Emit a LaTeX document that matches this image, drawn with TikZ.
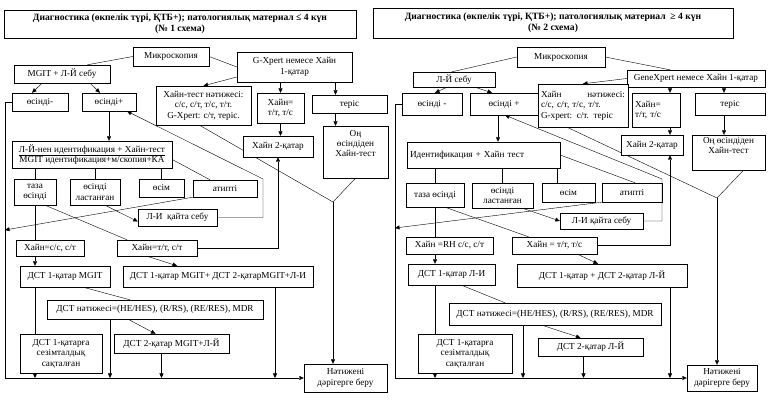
\documentclass[tikz,border=0pt]{standalone}
\usepackage{fontspec}
\setmainfont{Liberation Serif}
\usetikzlibrary{arrows.meta}
\pgfdeclarelayer{paper}
\pgfdeclarelayer{under}
\pgfsetlayers{paper,under,main}

\begin{document}
\begin{tikzpicture}[x=1pt, y=-1pt, line width=0.7pt,
    box/.style={draw, fill=white, align=center, inner sep=1pt,
      font=\fontsize{9.2}{10.4}\selectfont},
    lbox/.style={box, align=left, inner xsep=3pt},
    head/.style={box, font=\fontsize{9.6}{11}\selectfont\bfseries},
    arr/.style={-{Triangle[length=4.5pt, width=4pt]}}
  ]
  \begin{pgfonlayer}{paper}
    \fill[white] (0,0) rectangle (769,403);
  \end{pgfonlayer}
  \useasboundingbox (0,0) rectangle (769,403);

  % scheme 1
  \node[head, minimum width=352, minimum height=28] (title1) at (180,24)
    {Диагностика (өкпелік түрі, ҚТБ+); патологиялық материал ≤ 4 күн\\(№ 1 схема)};
  \node[box, minimum width=76, minimum height=19] (micro1) at (171,56.5) {Микроскопия};
  \node[box, minimum width=115, minimum height=30] (xpert1) at (294.5,67) {G-Xpert немесе Хайн\\1-қатар};
  \node[box, minimum width=96, minimum height=18] (mgit1) at (62,74) {MGIT + Л-Й себу};
  \node[box, minimum width=56, minimum height=18] (neg1) at (40,102) {өсінді-};
  \node[box, minimum width=54, minimum height=18] (pos1) at (109,102) {өсінді+};
  \node[box, minimum width=95, minimum height=39] (hres1) at (203.5,105.5)
    {Хайн-тест нәтижесі:\\с/с, с/т, т/с, т/т.\\G-Xpert: с/т, теріс.};
  \node[box, minimum width=47, minimum height=30] (heq1) at (280.5,108) {Хайн=\\т/т, т/с};
  \node[box, minimum width=75, minimum height=18] (ter1) at (349.5,104) {теріс};
  \node[box, minimum width=65, minimum height=52] (on1) at (355.5,152)
    {\parbox[t][44pt][t]{60pt}{\centering Оң\\өсіндіден\\Хайн-тест}};
  \node[box, minimum width=70, minimum height=21] (h2q1) at (278,146.5) {Хайн 2-қатар};
  \node[box, minimum width=160, minimum height=27] (id1) at (92,154.5)
    {\underline{Л-Й-нен идентификация + Хайн-тест}\\MGIT идентификация+м/скопия+КА};
  \node[box, minimum width=42, minimum height=26] (clean1) at (35,192) {таза\\өсінді};
  \node[box, minimum width=50, minimum height=26] (cont1) at (95,192) {өсінді\\ластанған};
  \node[box, minimum width=45, minimum height=18] (grow1) at (161.5,188) {өсім};
  \node[box, minimum width=64, minimum height=17] (atyp1) at (225,188.5) {атипті};
  \node[box, minimum width=79, minimum height=17] (rese1) at (177.5,217.5) {Л-И\ \ қайта себу};
  \node[box, minimum width=68, minimum height=16] (hss1) at (50,248) {Хайн=с/с, с/т};
  \node[box, minimum width=80, minimum height=16] (htt1) at (157,248) {Хайн=т/т, с/т};
  \node[box, minimum width=90, minimum height=21] (dsta1) at (65,276.5) {ДСТ 1-қатар MGIT};
  \node[box, minimum width=190, minimum height=21] (dstb1) at (218,276.5) {ДСТ 1-қатар MGIT+ ДСТ 2-қатарMGIT+Л-И};
  \node[box, minimum width=216, minimum height=19] (dstr1) at (155,309.5) {ДСТ нәтижесі=(HE/HES), (R/RS), (RE/RES), MDR};
  \node[box, minimum width=82, minimum height=39] (sens1) at (61,353.5) {ДСТ 1-қатарға\\сезімталдық\\сақталған};
  \node[box, minimum width=115, minimum height=19] (dstc1) at (171.5,343.5) {ДСТ 2-қатар MGIT+Л-Й};
  \node[box, minimum width=83, minimum height=28] (res1) at (345.5,378) {Нәтижені\\дәрігерге беру};

  \draw (micro1.west) -- (mgit1.20);
  \draw (micro1.east) -- (xpert1.west);
  \draw[arr] ([xshift=-20]mgit1.south) -- ([xshift=-8]neg1.north);
  \draw[arr] ([xshift=28]mgit1.south) -- ([xshift=-9]pos1.north);
  \draw[arr] ([yshift=-10]xpert1.west) -- (hres1.north);
  \draw[arr] (heq1.north |- xpert1.south) -- (heq1.north);
  \coordinate (t1) at ([xshift=-14]ter1.north);
  \draw[arr] (t1 |- xpert1.south) -- (t1);
  \draw[arr] (heq1.south) -- (heq1.south |- h2q1.north);
  \draw[arr] (t1 |- ter1.south) -- (t1 |- on1.north);
  \draw[arr] (pos1.south) -- (pos1.south |- id1.north);
  \foreach \n in {clean1, cont1, grow1}
    \draw (\n.north |- id1.south) -- (\n.north);
  \draw ([yshift=-5]id1.east) -- ([xshift=-15]atyp1.north);
  \coordinate (j1) at (5,230);
  \draw[arr] (atyp1.south west) -- (j1);
  \draw (clean1.south) -- (clean1.south |- hss1.north);
  \draw ([xshift=10]clean1.south) -- ([xshift=-30]htt1.north);
  \draw[arr] ([xshift=10]cont1.south) -- ([yshift=-4]rese1.west);
  \coordinate (k1) at (263,179);
  \draw[arr] (rese1.east) -| (k1) -- ([xshift=18]pos1.south);
  \coordinate (v1) at (333,202);
  \begin{pgfonlayer}{under}
    \draw ([xshift=-4]hres1.south) -- (v1) -- (on1.south);
  \end{pgfonlayer}
  \draw[arr] (v1) -- (v1 |- res1.north);
  \draw[arr] (htt1.east) -| (h2q1.south);
  \draw[arr] (clean1.south |- hss1.south) -- (clean1.south |- dsta1.north);
  \draw[arr] ([xshift=-10]htt1.south) -- ([xshift=-41]dstb1.north);
  \draw ([xshift=18]dsta1.south) -- ([xshift=-25]dstr1.north);
  \draw[arr] ([xshift=-27]dstr1.south) -- ([xshift=-16]dstc1.north);
  \draw (clean1.south |- dsta1.south) -- (clean1.south |- sens1.north);
  \coordinate (e1) at ([xshift=-45]dstr1.south);
  \coordinate (e2) at ([xshift=-10]dstc1.south);
  \coordinate (e3) at ([xshift=57]dstb1.south);
  \foreach \c in {e1, e2, e3}
    \draw[arr] (\c) -- (\c |- res1.west);
  \draw[arr] (clean1.south |- sens1.south) -- (clean1.south |- res1.west);
  \draw[arr] (neg1.west) -- ++(-7,0) |- (res1.west);

  % scheme 2
  \node[head, minimum width=360, minimum height=30] (title2) at (553,23)
    {Диагностика (өкпелік түрі, ҚТБ+); патологиялық материал\ \ ≥ 4 күн\\(№ 2 схема)};
  \node[box, minimum width=88, minimum height=20] (micro2) at (561,57) {Микроскопия};
  \node[box, minimum width=82, minimum height=15] (lj2) at (454,79.5) {Л-Й себу};
  \node[box, minimum width=138, minimum height=17] (gx2) at (696,78.5) {GeneXpert немесе Хайн 1-қатар};
  \node[box, minimum width=60, minimum height=22] (neg2) at (432,104) {өсінді -};
  \node[box, minimum width=68, minimum height=22] (pos2) at (504,104) {өсінді +};
  \node[lbox, text width=84, minimum height=43] (hres2) at (583,105.5)
    {Хайн \hfill нәтижесі:\\с/с, с/т, т/с, т/т.\\G-xpert: с/т. теріс};
  \node[lbox, text width=42, minimum height=34] (heq2) at (656,110) {Хайн=\\т/т, т/с};
  \node[box, minimum width=70, minimum height=22] (ter2) at (730,104) {теріс};
  \node[box, minimum width=62, minimum height=20] (h2q2) at (652,145) {Хайн 2-қатар};
  \node[box, minimum width=73, minimum height=35] (on2) at (728.5,152.5)
    {\parbox[t][31pt][t]{68pt}{\centering Оң өсіндіден\\Хайн-тест}};
  \node[lbox, text width=147, minimum height=26] (id2) at (483.5,155) {Идентификация + Хайн тест};
  \node[box, minimum width=58, minimum height=24] (clean2) at (435,195) {таза өсінді};
  \node[box, minimum width=61, minimum height=25] (cont2) at (502.5,195.5) {өсінді\\ластанған};
  \node[box, minimum width=53, minimum height=19] (grow2) at (568.5,192.5) {өсім};
  \node[box, minimum width=60, minimum height=19] (atyp2) at (632,192.5) {атипті};
  \node[box, minimum width=83, minimum height=16] (rese2) at (601.5,221) {Л-И қайта себу};
  \node[box, minimum width=87, minimum height=17] (hss2) at (449.5,245.5) {Хайн =RH с/с, с/т};
  \node[box, minimum width=85, minimum height=17] (htt2) at (554.5,245.5) {Хайн = т/т, т/с};
  \node[box, minimum width=87, minimum height=21] (dsta2) at (451.5,274.5) {ДСТ 1-қатар Л-И};
  \node[box, minimum width=170, minimum height=23] (dstb2) at (602,275.5) {ДСТ 1-қатар + ДСТ 2-қатар Л-Й};
  \node[box, minimum width=212, minimum height=22] (dstr2) at (555,314) {ДСТ нәтижесі=(HE/HES), (R/RS), (RE/RES), MDR};
  \node[box, minimum width=94, minimum height=39] (sens2) at (465,353.5) {ДСТ 1-қатарға\\сезімталдық\\сақталған};
  \node[box, minimum width=105, minimum height=18] (dstc2) at (590.5,347) {ДСТ 2-қатар Л-Й};
  \node[box, minimum width=70, minimum height=26] (res2) at (722,378) {Нәтижені\\дәрігерге беру};

  \draw (micro2.west) -- ([xshift=-2]lj2.north);
  \draw (micro2.east) -- ([xshift=-26]gx2.north);
  \draw[arr] ([xshift=-7]lj2.south) -- ([xshift=3]neg2.north);
  \draw[arr] ([xshift=21]lj2.south) -- ([xshift=-12]pos2.north);
  \draw[arr] (gx2.west) -- (hres2.north);
  \coordinate (g2) at ([xshift=-26]gx2.south);
  \draw[arr] (g2) -- (g2 |- heq2.north);
  \draw[arr] (g2 |- heq2.south) -- (g2 |- h2q2.north);
  \coordinate (t2) at ([xshift=-6]ter2.north);
  \draw[arr] (t2 |- gx2.south) -- (t2);
  \draw[arr] (t2 |- ter2.south) -- (t2 |- on2.north);
  \coordinate (p2) at ([xshift=-6]pos2.south);
  \draw[arr] (p2) -- (p2 |- id2.north);
  \coordinate (w2) at ([xshift=-11]grow2.north);
  \foreach \n in {clean2.north, cont2.north, w2}
    \draw (\n |- id2.south) -- (\n);
  \draw (id2.east) -- ([xshift=3]atyp2.north);
  \coordinate (j2) at (395,228);
  \draw[arr] (atyp2.south west) -- (j2);
  \draw (clean2.south) -- (clean2.south |- hss2.north);
  \draw ([xshift=10]clean2.south) -- ([xshift=-26]htt2.north);
  \draw[arr] ([xshift=20]cont2.south) -- (rese2.west);
  \coordinate (k2) at (662,179);
  \draw[arr] (rese2.east) -| (k2) -- ([xshift=1]pos2.south);
  \coordinate (v2) at (717,198);
  \begin{pgfonlayer}{under}
    \draw ([xshift=-16]hres2.south) -- (v2) -- ([xshift=15]on2.south);
  \end{pgfonlayer}
  \draw[arr] (v2) -- (v2 |- res2.north);
  \draw[arr] (htt2.east) -| (g2 |- h2q2.south);
  \draw[arr] (clean2.south |- hss2.south) -- (clean2.south |- dsta2.north);
  \draw[arr] ([xshift=23]htt2.south) -- ([xshift=-4]dstb2.north);
  \draw ([xshift=10]dsta2.south) -- ([xshift=-50]dstr2.north);
  \draw[arr] ([xshift=-13]dstr2.south) -- ([xshift=-10]dstc2.north);
  \draw (clean2.south |- dsta2.south) -- (clean2.south |- sens2.north);
  \coordinate (e4) at ([xshift=-32]dstr2.south);
  \coordinate (e5) at ([xshift=-7]dstc2.south);
  \coordinate (e6) at (g2 |- dstb2.south);
  \foreach \c in {e4, e5, e6}
    \draw[arr] (\c) -- (\c |- res2.west);
  \draw[arr] (clean2.south |- sens2.south) -- (clean2.south |- res2.west);
  \draw[arr] (neg2.west) -- ++(-7,0) |- (res2.west);
\end{tikzpicture}
\end{document}
